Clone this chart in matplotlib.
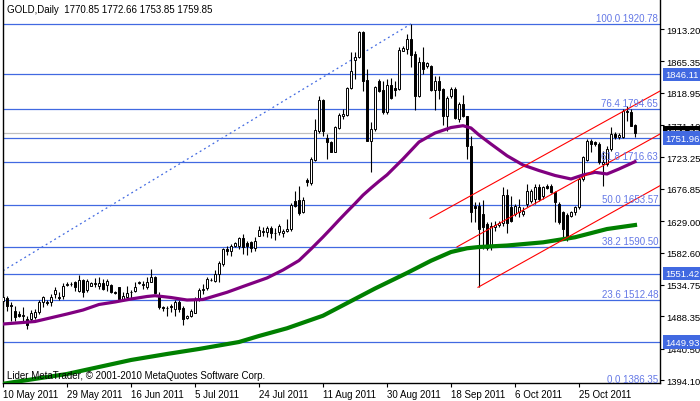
import numpy as np
import matplotlib
matplotlib.use("Agg")
import matplotlib.pyplot as plt

# daily bars, bar 0 = 10 May 2011 ... last bar = 10 Nov 2011
opens = [1511.5, 1514.9, 1505.0, 1496.7, 1491.3, 1489.3, 1484.4, 1484.4, 1486.8, 1494.2,
         1509.0, 1510.0, 1509.0, 1521.3, 1517.4, 1518.9, 1535.2, 1536.1, 1538.6, 1526.3,
         1542.0, 1527.3, 1533.7, 1536.0, 1533.7, 1537.1, 1535.0, 1534.7, 1523.8, 1531.2,
         1514.0, 1517.4, 1524.0, 1526.3, 1537.1, 1535.1, 1531.2, 1538.6, 1547.0, 1517.4,
         1501.6, 1500.6, 1503.0, 1499.1, 1510.0, 1500.6, 1485.3, 1488.8, 1493.7, 1513.4,
         1527.0, 1529.7, 1542.5, 1541.0, 1550.9, 1565.7, 1587.9, 1585.4, 1592.8, 1592.8,
         1603.6, 1596.8, 1597.7, 1588.9, 1607.6, 1613.5, 1613.5, 1618.4, 1611.5, 1612.5,
         1611.5, 1615.0, 1617.4, 1659.3, 1660.3, 1642.0, 1690.4, 1685.5, 1720.0, 1762.9,
         1808.2, 1751.5, 1745.6, 1731.8, 1766.3, 1785.0, 1786.0, 1825.5, 1867.9, 1871.3,
         1909.3, 1837.8, 1748.0, 1765.3, 1836.8, 1823.5, 1790.0, 1830.4, 1826.0, 1824.5,
         1881.2, 1883.6, 1898.4, 1876.2, 1813.6, 1864.9, 1859.0, 1859.0, 1823.5, 1836.8,
         1824.5, 1785.0, 1813.6, 1824.5, 1780.0, 1802.3, 1784.0, 1740.7, 1651.9, 1652.0,
         1640.0, 1625.0, 1592.0, 1620.0, 1624.0, 1627.0, 1667.0, 1649.5, 1639.6, 1642.0,
         1639.6, 1654.4, 1659.0, 1661.8, 1679.0, 1666.7, 1681.0, 1681.5, 1671.7, 1654.4,
         1642.0, 1638.0, 1637.0, 1642.0, 1649.5, 1691.4, 1720.0, 1748.0, 1745.6, 1743.1,
         1713.0, 1713.6, 1735.8, 1758.0, 1753.0, 1753.0, 1790.0, 1790.0, 1770.85]
highs = [1520.4, 1518.9, 1509.0, 1504.1, 1496.7, 1501.6, 1489.3, 1497.7, 1499.2, 1512.5,
         1518.9, 1512.0, 1521.3, 1531.0, 1523.8, 1537.1, 1538.6, 1538.6, 1541.0, 1550.0,
         1543.5, 1543.5, 1539.0, 1545.0, 1546.0, 1543.5, 1543.5, 1536.0, 1525.0, 1532.2,
         1523.8, 1533.7, 1527.3, 1538.6, 1541.0, 1541.0, 1546.0, 1558.3, 1548.5, 1523.8,
         1504.1, 1504.0, 1506.5, 1513.0, 1512.0, 1503.0, 1490.0, 1499.1, 1516.4, 1530.0,
         1536.1, 1546.0, 1544.5, 1557.0, 1569.5, 1588.9, 1592.8, 1595.3, 1598.7, 1605.1,
         1610.0, 1600.0, 1600.2, 1605.0, 1622.4, 1620.0, 1622.4, 1622.4, 1618.4, 1624.8,
         1617.4, 1632.2, 1655.4, 1674.0, 1681.5, 1664.3, 1692.4, 1723.4, 1780.1, 1814.6,
         1810.0, 1757.9, 1748.0, 1770.2, 1789.0, 1794.9, 1826.9, 1878.7, 1878.7, 1910.7,
         1910.7, 1854.0, 1775.2, 1829.4, 1839.3, 1836.8, 1839.3, 1840.2, 1836.8, 1886.1,
         1887.6, 1905.8, 1920.8, 1881.2, 1871.3, 1886.0, 1864.9, 1860.0, 1844.2, 1844.2,
         1825.5, 1814.6, 1826.9, 1826.9, 1804.7, 1815.6, 1785.0, 1754.5, 1656.8, 1656.9,
         1660.0, 1628.0, 1628.0, 1630.0, 1630.0, 1679.0, 1676.0, 1665.8, 1654.4, 1661.8,
         1649.5, 1684.0, 1676.0, 1684.0, 1684.0, 1681.5, 1684.0, 1684.0, 1674.0, 1656.9,
         1644.5, 1641.0, 1644.5, 1652.0, 1693.9, 1725.9, 1750.5, 1750.5, 1748.0, 1745.6,
         1733.0, 1740.7, 1767.8, 1760.4, 1760.0, 1794.9, 1799.9, 1795.0, 1772.66]
lows = [1506.5, 1495.7, 1482.0, 1481.9, 1486.8, 1481.9, 1469.6, 1481.9, 1484.4, 1491.8,
        1501.6, 1505.0, 1504.1, 1515.0, 1512.5, 1514.0, 1532.7, 1533.0, 1526.3, 1523.8,
        1517.4, 1523.8, 1532.7, 1532.2, 1528.7, 1527.3, 1526.0, 1522.3, 1521.0, 1513.0,
        1511.5, 1514.0, 1514.0, 1523.8, 1536.1, 1528.7, 1528.7, 1538.6, 1522.3, 1499.2,
        1496.7, 1489.3, 1494.2, 1489.3, 1495.2, 1475.5, 1484.0, 1486.8, 1492.5, 1511.4,
        1521.5, 1526.5, 1540.0, 1538.6, 1539.6, 1563.2, 1579.0, 1578.0, 1590.3, 1587.9,
        1580.5, 1579.5, 1583.9, 1585.4, 1606.6, 1607.6, 1605.1, 1603.6, 1601.7, 1608.6,
        1605.1, 1612.5, 1615.0, 1649.5, 1638.1, 1641.1, 1681.5, 1682.5, 1718.5, 1760.0,
        1755.0, 1721.0, 1730.8, 1730.8, 1765.3, 1780.0, 1784.0, 1824.5, 1839.3, 1869.8,
        1822.0, 1748.0, 1702.2, 1762.8, 1820.5, 1787.5, 1787.5, 1809.7, 1813.6, 1823.5,
        1881.0, 1876.2, 1856.5, 1793.9, 1812.1, 1846.7, 1855.0, 1822.0, 1793.9, 1809.7,
        1771.0, 1762.8, 1810.7, 1780.0, 1775.2, 1782.6, 1721.0, 1627.3, 1627.3, 1531.2,
        1588.0, 1586.0, 1587.0, 1615.0, 1620.0, 1622.0, 1612.0, 1627.3, 1637.2, 1634.7,
        1637.0, 1649.5, 1656.0, 1654.4, 1659.3, 1661.8, 1676.6, 1670.7, 1627.3, 1624.8,
        1602.6, 1600.0, 1634.7, 1638.0, 1647.0, 1688.9, 1718.5, 1730.8, 1740.0, 1713.6,
        1681.5, 1711.1, 1733.3, 1750.5, 1750.0, 1751.5, 1777.7, 1769.3, 1753.85]
closes = [1517.4, 1504.1, 1504.0, 1486.8, 1489.3, 1489.8, 1476.0, 1492.7, 1494.2, 1510.0,
          1517.4, 1508.0, 1517.4, 1527.0, 1515.4, 1533.7, 1536.1, 1536.6, 1531.2, 1542.0,
          1523.8, 1540.0, 1537.1, 1537.0, 1537.1, 1528.7, 1541.0, 1523.8, 1522.8, 1514.0,
          1518.9, 1522.3, 1524.3, 1532.2, 1538.6, 1535.6, 1538.6, 1546.0, 1522.3, 1501.6,
          1500.6, 1501.0, 1502.5, 1510.0, 1498.6, 1485.0, 1488.8, 1495.7, 1513.4, 1527.2,
          1529.0, 1543.5, 1542.0, 1550.9, 1567.1, 1587.9, 1585.4, 1592.8, 1596.8, 1603.6,
          1590.3, 1592.8, 1588.9, 1600.2, 1615.5, 1614.0, 1618.4, 1611.5, 1611.0, 1622.4,
          1615.0, 1617.4, 1652.9, 1652.0, 1641.1, 1660.3, 1686.5, 1720.9, 1764.4, 1808.2,
          1762.8, 1746.6, 1731.8, 1767.8, 1786.0, 1787.5, 1825.5, 1851.6, 1871.3, 1908.3,
          1836.8, 1748.0, 1765.3, 1826.9, 1822.0, 1790.0, 1830.4, 1810.7, 1823.5, 1882.6,
          1884.6, 1898.4, 1874.8, 1813.6, 1864.9, 1854.0, 1862.9, 1823.5, 1836.8, 1823.5,
          1785.0, 1810.7, 1824.5, 1781.0, 1802.3, 1785.0, 1740.7, 1643.0, 1648.0, 1617.4,
          1620.0, 1590.0, 1622.0, 1624.0, 1626.0, 1667.0, 1627.0, 1629.8, 1651.9, 1649.5,
          1644.5, 1674.1, 1674.0, 1679.1, 1661.8, 1679.0, 1678.0, 1671.7, 1656.9, 1627.3,
          1617.4, 1605.0, 1642.0, 1649.5, 1691.4, 1723.4, 1748.1, 1743.1, 1742.7, 1716.0,
          1716.0, 1735.8, 1758.0, 1753.0, 1756.0, 1792.5, 1792.4, 1770.3, 1759.85]

# moving averages (bar index, price)
ma_purple_bar = [0, 8, 16, 20, 24, 28, 32, 36, 38, 42, 46, 50, 56, 60, 66, 70, 74, 77, 80, 82,
                 84, 86, 88, 90, 92, 94, 96, 100, 104, 108, 112, 115, 117, 119, 122, 126, 130,
                 134, 138, 142, 145, 148, 151, 154, 158]
ma_purple_val = [1476.9, 1480.6, 1491.7, 1497.6, 1505.8, 1509.5, 1513.9, 1517.6, 1518.8, 1516.1,
                 1512.4, 1513.2, 1523.8, 1532.4, 1545.0, 1556.8, 1570.8, 1587.8, 1605.6, 1618.0,
                 1630.7, 1643.0, 1655.0, 1667.5, 1678.0, 1688.0, 1697.5, 1721.0, 1746.1, 1759.4,
                 1767.5, 1770.2, 1766.8, 1756.5, 1743.1, 1725.8, 1712.1, 1703.9, 1696.6, 1691.4,
                 1697.3, 1701.3, 1698.8, 1706.2, 1717.0]
ma_green_bar = [0, 16, 32, 41, 49, 59, 64, 71, 80, 93, 101, 107, 112, 116, 119, 126, 135, 143,
                151, 158]
ma_green_val = [1388.5, 1403.0, 1423.7, 1432.6, 1440.0, 1450.3, 1459.2, 1470.6, 1489.2, 1529.4,
                1552.4, 1570.5, 1583.4, 1588.9, 1590.8, 1593.0, 1597.7, 1605.2, 1617.4, 1623.3]

fib_pct = ["100.0", "76.4", "61.8", "50.0", "38.2", "23.6", "0.0"]
fib_lvl = [1920.78, 1794.65, 1716.63, 1653.57, 1590.50, 1512.48, 1386.35]
hlines = [1846.11, 1751.96, 1551.42, 1449.93]
last_price = 1759.85

# fib trend line and channel (bar, price) endpoints
fib_trend = ([0, 102], [1555.7, 1920.78])
channel = [([106.75, 164.25], [1633.3, 1821.5]),
           ([113.5, 164.25], [1591.0, 1757.9]),
           ([118.75, 164.25], [1531.2, 1681.5])]

ytick_vals = [1913.20, 1865.35, 1818.95, 1771.10, 1723.25, 1676.85, 1629.00, 1582.60,
              1534.75, 1488.35, 1440.50, 1394.10]
xtick_bars = [0, 16, 32, 48, 64, 80, 96, 112, 128, 144]
xtick_labels = ["10 May 2011", "29 May 2011", "16 Jun 2011", "5 Jul 2011", "24 Jul 2011",
                "11 Aug 2011", "30 Aug 2011", "18 Sep 2011", "6 Oct 2011", "25 Oct 2011"]

BLUE = "#4169E1"
FS = 7
plt.rcParams.update({"font.family": ["Liberation Sans", "DejaVu Sans"], "font.size": FS})

fig = plt.figure(figsize=(7, 4.02), dpi=100)
ax = fig.add_axes([3 / 700, 18 / 402, 657 / 700, 384 / 402])

o, h, l, c = (np.array(v) for v in (opens, highs, lows, closes))
x = np.arange(len(o))
up = c >= o

for lv in fib_lvl + hlines:
    ax.axhline(lv, color=BLUE, lw=0.9, zorder=1.5)
ax.axhline(last_price, color="#c0c0c0", lw=0.9, zorder=1.4)

ax.vlines(x, l, h, color="black", lw=0.8, zorder=3)
ax.bar(x, np.maximum(np.abs(c - o), 0.3), bottom=np.minimum(o, c), width=0.6,
       color=np.where(up, "white", "black"), edgecolor="black", lw=0.7, zorder=4)

ax.plot(ma_purple_bar, ma_purple_val, color="#800080", lw=2.3, zorder=5)
ax.plot(ma_green_bar, ma_green_val, color="#008000", lw=3.0, zorder=5)

ax.plot(*fib_trend, color=BLUE, lw=0.9, ls=(0, (1.5, 2.5)), zorder=2)
for bx, py in channel:
    ax.plot(bx, py, color="#ff0000", lw=0.8, zorder=6)

for pct, lv in zip(fib_pct, fib_lvl):
    ax.text(0.997, lv + 1.5, f"{pct} {lv:.2f}", transform=ax.get_yaxis_transform(),
            ha="right", va="bottom", color="#6478e6", fontsize=FS, zorder=7)

ax.set_xlim(0, 164.25)
ax.set_ylim(1957.6 - 1.479 * 384, 1957.6)

ax.yaxis.tick_right()
ax.set_yticks(ytick_vals)
ax.set_yticklabels([f"{v:.2f}" for v in ytick_vals])
ax.tick_params(axis="y", length=3, width=0.8, pad=1.2, labelsize=6.8)
ax.set_xticks(xtick_bars)
ax.set_xticklabels(xtick_labels, ha="left")
ax.tick_params(axis="x", length=3, width=0.8, pad=1, labelsize=FS)
ax.spines["top"].set_visible(False)
for s in ("left", "right", "bottom"):
    ax.spines[s].set_linewidth(1.0)

# price boxes on the right scale
ytr = ax.get_yaxis_transform()
ax.text(1 + 5 / 657, last_price, f"{last_price:.2f}", transform=ytr, ha="left", va="center",
        color="white", fontsize=6.8, clip_on=False, zorder=10,
        bbox=dict(boxstyle="square,pad=0.25", fc="black", ec="none"))
for lv in hlines:
    ax.text(1 + 5 / 657, lv, f"{lv:.2f}", transform=ytr, ha="left", va="center",
            color="white", fontsize=6.8, clip_on=False, zorder=11,
            bbox=dict(boxstyle="square,pad=0.25", fc=BLUE, ec="none"))

fig.text(7 / 700, 1 - 10 / 402, "GOLD,Daily  1770.85 1772.66 1753.85 1759.85",
         ha="left", va="center", fontsize=FS)
fig.text(7 / 700, 1 - 376 / 402, "Lider MetaTrader, \u00a9 2001-2010 MetaQuotes Software Corp.",
         ha="left", va="center", fontsize=FS)

fig.savefig("out.png", dpi=100)
